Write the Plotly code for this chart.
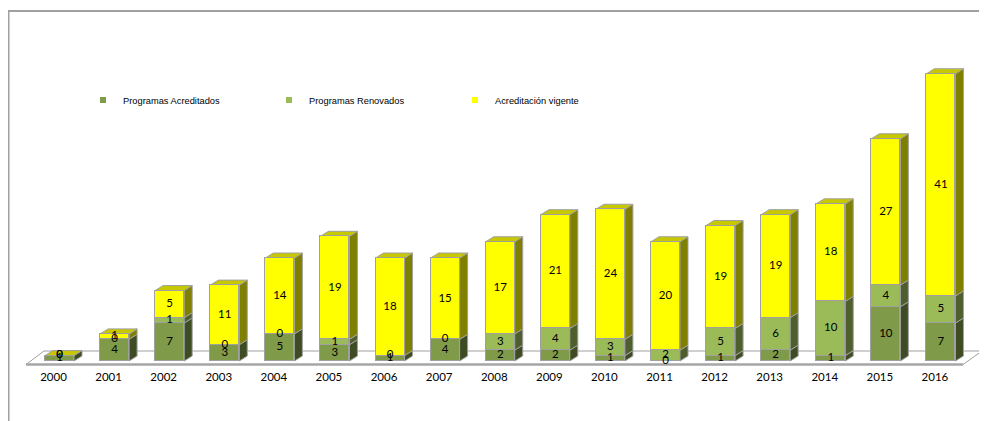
import plotly.graph_objects as go

# ---------------- data ----------------
years = [str(y) for y in range(2000, 2017)]
acreditados = [1, 4, 7, 3, 5, 3, 1, 4, 2, 2, 1, 0, 1, 2, 1, 10, 7]
renovados = [0, 0, 1, 0, 0, 1, 0, 0, 3, 4, 3, 2, 5, 6, 10, 4, 5]
vigente = [0, 1, 5, 11, 14, 19, 18, 15, 17, 21, 24, 20, 19, 19, 18, 27, 41]
series_names = ["Programas Acreditados", "Programas Renovados", "Acreditación vigente"]

# ---------------- style ----------------
front_colors = ["#7F9A48", "#9BBB59", "#FFFF00"]
side_colors = ["#3E4C23", "#4E5E2C", "#808000"]
top_color = "#C8C800"
edge = "#A0A0A0"

OFF = 8  # page body margin of the browser
W, H = 987 - OFF, 421 - OFF
PX_X0 = 53.5 - OFF       # pixel of first tick
PX_PER_X = 55.09         # pixels per category
BASE_PX = 361.0 - OFF    # pixel of value 0
PX_PER_Y = 5.42          # pixels per unit
PLOT_BOTTOM = 368.0 - OFF

x_range = [-PX_X0 / PX_PER_X, (W - PX_X0) / PX_PER_X]
y_range = [-(PLOT_BOTTOM - BASE_PX) / PX_PER_Y, BASE_PX / PX_PER_Y]

offset = 6 / PX_PER_X
bw = 29 / PX_PER_X
dx = 8 / PX_PER_X
dy = 5 / PX_PER_Y

series = [acreditados, renovados, vigente]
n = len(years)
xs = [i + offset for i in range(n)]

fig = go.Figure()

sx = lambda p: (p - OFF - PX_X0) / PX_PER_X          # screen px -> x data
sy = lambda p: (BASE_PX - (p - OFF)) / PX_PER_Y       # screen px -> y data

shapes = []
# floor plane
fy0, fy1 = sy(364.5), sy(351)
fxl0, fxl1, fxr1, fxr0 = sx(26), sx(44), sx(982), sx(963)
shapes.append(dict(type="path", xref="x", yref="y", layer="below",
                   path=f"M{fxl0},{fy0} L{fxl1},{fy1} L{fxr1},{fy1} L{fxr0},{fy0} Z",
                   fillcolor="white", line=dict(color=edge, width=1)))
shapes.append(dict(type="line", xref="x", yref="y", layer="below",
                   x0=fxl0, y0=fy0, x1=fxr0, y1=fy0, line=dict(color="#A6A6A6", width=2.5)))

# side and top faces
for i in range(n):
    base = 0
    xr = xs[i] + bw / 2
    xl = xs[i] - bw / 2
    for k, vals in enumerate(series):
        v = vals[i]
        if v > 0:
            shapes.append(dict(type="path", xref="x", yref="y", layer="below",
                               path=f"M{xr},{base} L{xr+dx},{base+dy} L{xr+dx},{base+v+dy} L{xr},{base+v} Z",
                               fillcolor=side_colors[k], line=dict(color=edge, width=1)))
        base += v
    shapes.append(dict(type="path", xref="x", yref="y", layer="below",
                       path=f"M{xl},{base} L{xl+dx},{base+dy} L{xr+dx},{base+dy} L{xr},{base} Z",
                       fillcolor=top_color, line=dict(color=edge, width=1)))

# chart border (top + left)
px2py = lambda p: (PLOT_BOTTOM - (p - OFF)) / PLOT_BOTTOM
shapes.append(dict(type="rect", xref="paper", yref="paper", layer="above",
                   x0=0.5 / W, x1=1010 / W, y0=px2py(460), y1=px2py(11),
                   line=dict(color="#A0A0A0", width=2), fillcolor="rgba(0,0,0,0)"))

# front faces
for k, vals in enumerate(series):
    fig.add_trace(go.Bar(x=xs, y=vals, width=bw, name=series_names[k],
                         marker=dict(color=front_colors[k], line=dict(color=edge, width=1)),
                         showlegend=False, hoverinfo="skip"))

# value labels
lx, ly, lt = [], [], []
for i in range(n):
    base = 0
    for vals in series:
        v = vals[i]
        lx.append(xs[i]); ly.append(base + v / 2); lt.append(str(v))
        base += v
fig.add_trace(go.Scatter(x=lx, y=ly, text=lt, mode="text", showlegend=False,
                         textfont=dict(family="Lato", size=11.5, color="#000000"),
                         hoverinfo="skip"))

# legend entries
for k in range(3):
    fig.add_trace(go.Scatter(x=[None], y=[None], mode="markers", name=series_names[k],
                             marker=dict(symbol="square", size=6, color=front_colors[k])))

fig.update_layout(
    width=W, height=H,
    margin=dict(l=0, r=0, t=0, b=H - PLOT_BOTTOM, pad=0, autoexpand=False),
    paper_bgcolor="white", plot_bgcolor="white",
    barmode="stack", bargap=0,
    shapes=shapes,
    showlegend=True,
    legend=dict(orientation="h", traceorder="normal",
                x=(83 - OFF) / W, xanchor="left", y=px2py(100), yanchor="middle",
                font=dict(family="Liberation Sans", size=9.3, color="#000000"),
                entrywidth=141, entrywidthmode="pixels",
                bgcolor="rgba(0,0,0,0)", itemclick=False),
    xaxis=dict(range=x_range, tickvals=list(range(n)), ticktext=years,
               showgrid=False, zeroline=False, showline=False, ticks="",
               tickfont=dict(family="Lato", size=11.5, color="#000000"), fixedrange=True),
    yaxis=dict(range=y_range, visible=False, showgrid=False, zeroline=False, fixedrange=True),
)

fig.write_html("out.html")
